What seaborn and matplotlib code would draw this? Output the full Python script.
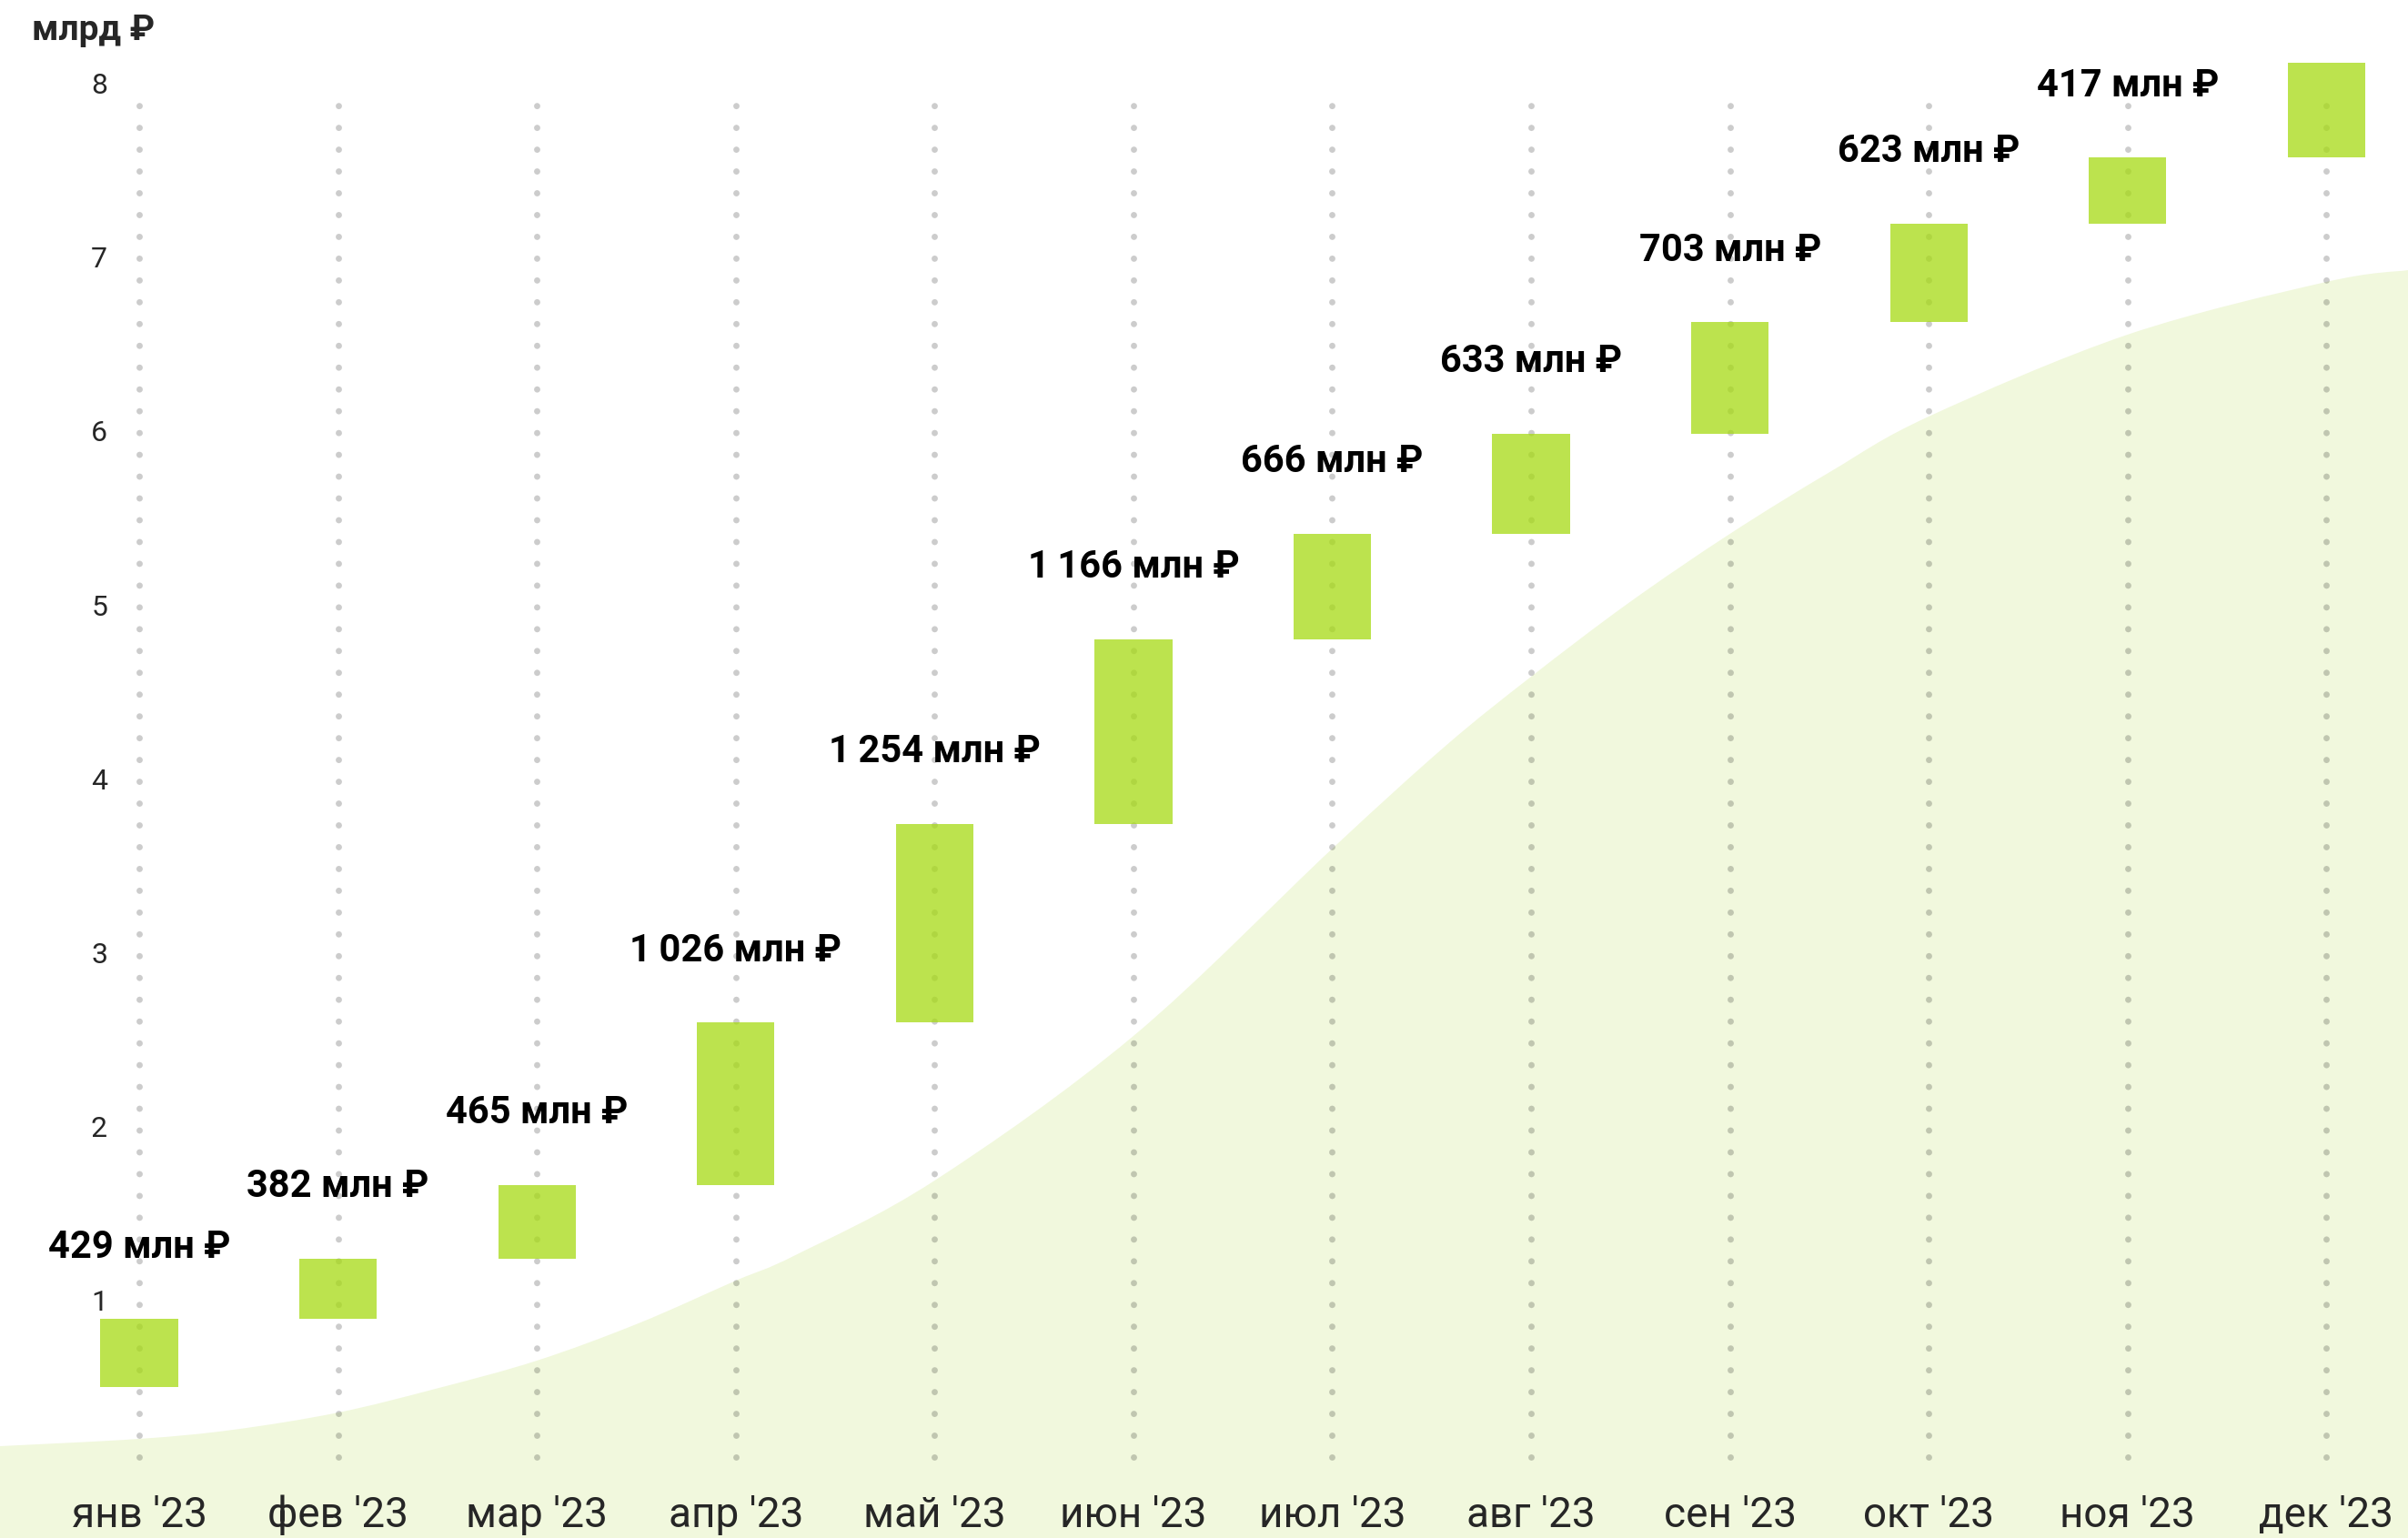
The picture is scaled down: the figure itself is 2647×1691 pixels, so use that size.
import numpy as np
import matplotlib
matplotlib.use("Agg")
import matplotlib.pyplot as plt
from matplotlib.path import Path
from matplotlib.patches import PathPatch
import seaborn as sns

# monthly increments, млн ₽
months = ["янв '23", "фев '23", "мар '23", "апр '23", "май '23", "июн '23",
          "июл '23", "авг '23", "сен '23", "окт '23", "ноя '23", "дек '23"]
values = [429, 382, 465, 1026, 1254, 1166, 666, 633, 703, 623, 417, 598]
# the last month has no caption on the chart
labels = ["429 млн ₽", "382 млн ₽", "465 млн ₽", "1\u2009026 млн ₽", "1\u2009254 млн ₽",
          "1\u2009166 млн ₽", "666 млн ₽", "633 млн ₽", "703 млн ₽", "623 млн ₽",
          "417 млн ₽", ""]

# axis ticks (млрд ₽ as printed on the chart)
ytick_labels = ["1", "2", "3", "4", "5", "6", "7", "8"]
ytick_pos = [548, 1646, 2743, 3841, 4939, 6037, 7134, 8232]

# decorative background curve (month index, млн ₽)
curve_x = [-0.7, 0, 0.47, 1, 1.49, 2, 2.51, 3, 3.3, 4, 5, 6, 6.57,
           7, 7.49, 8, 8.51, 9, 10, 11, 11.41]
curve_y = [-373, -327, -270, -161, -11, 167, 402, 672, 833, 1304, 2217,
           3400, 4049, 4486, 4951, 5388, 5784, 6129, 6646, 6979, 7053]

sns.set_style("white")
plt.rcParams['font.family'] = ['Roboto', 'DejaVu Sans']

bottoms = np.concatenate([[0], np.cumsum(values)[:-1]])
tops = bottoms + np.array(values)
x = np.arange(len(months))

fig = plt.figure(figsize=(26.47, 16.91), dpi=100)
ax = fig.add_axes([0, 0, 1, 1])

ylo, yhi = -953, 8759

# smooth the read points into a bezier outline (catmull-rom style)
pts = np.column_stack([curve_x, curve_y]).astype(float)
verts = [(curve_x[0], ylo), tuple(pts[0])]
codes = [Path.MOVETO, Path.LINETO]
for k in range(len(pts) - 1):
    p0 = pts[max(k - 1, 0)]
    p1, p2 = pts[k], pts[k + 1]
    p3 = pts[min(k + 2, len(pts) - 1)]
    verts += [tuple(p1 + (p2 - p0) / 6), tuple(p2 - (p3 - p1) / 6), tuple(p2)]
    codes += [Path.CURVE4] * 3
verts += [(curve_x[-1], ylo), (curve_x[0], ylo)]
codes += [Path.LINETO, Path.CLOSEPOLY]
ax.add_patch(PathPatch(Path(verts, codes), facecolor="#f1f8dd", lw=0, zorder=0))

# dotted guides
ax.vlines(x, -442, 8110, colors="black", alpha=0.2, lw=5.0,
          linestyles=[(0, (0.001, 3.45))], capstyle="round", zorder=1)

sns.barplot(x=x, y=values, bottom=bottoms, width=0.39, color="#a6da13",
            alpha=0.75, linewidth=0, saturation=1, native_scale=True,
            ax=ax, zorder=2)

for i in range(len(months)):
    if labels[i]:
        ax.annotate(labels[i], (x[i], tops[i]), xytext=(0, 57),
                    textcoords="offset points", ha="center", va="center",
                    fontsize=30, fontweight="bold", color="black")

ax.set_xlim(-0.70, 11.41)
ax.set_ylim(ylo, yhi)

ax.set_xticks(x)
ax.set_xticklabels(months, fontsize=33)
plt.setp(ax.get_xticklabels(), va="baseline")
ax.tick_params(axis="x", length=0, pad=-8.6)

ax.set_yticks(ytick_pos)
ax.set_yticklabels(ytick_labels, fontsize=23)
ax.tick_params(axis="y", length=0, pad=-85)

ax.set_xlabel("")
ax.set_ylabel("")
for s in ax.spines.values():
    s.set_visible(False)
ax.grid(False)

fig.text(35 / 2647, 1 - 33 / 1691, "млрд ₽", fontsize=28, fontweight="bold",
         ha="left", va="center")

fig.savefig("out.png", dpi=100)
